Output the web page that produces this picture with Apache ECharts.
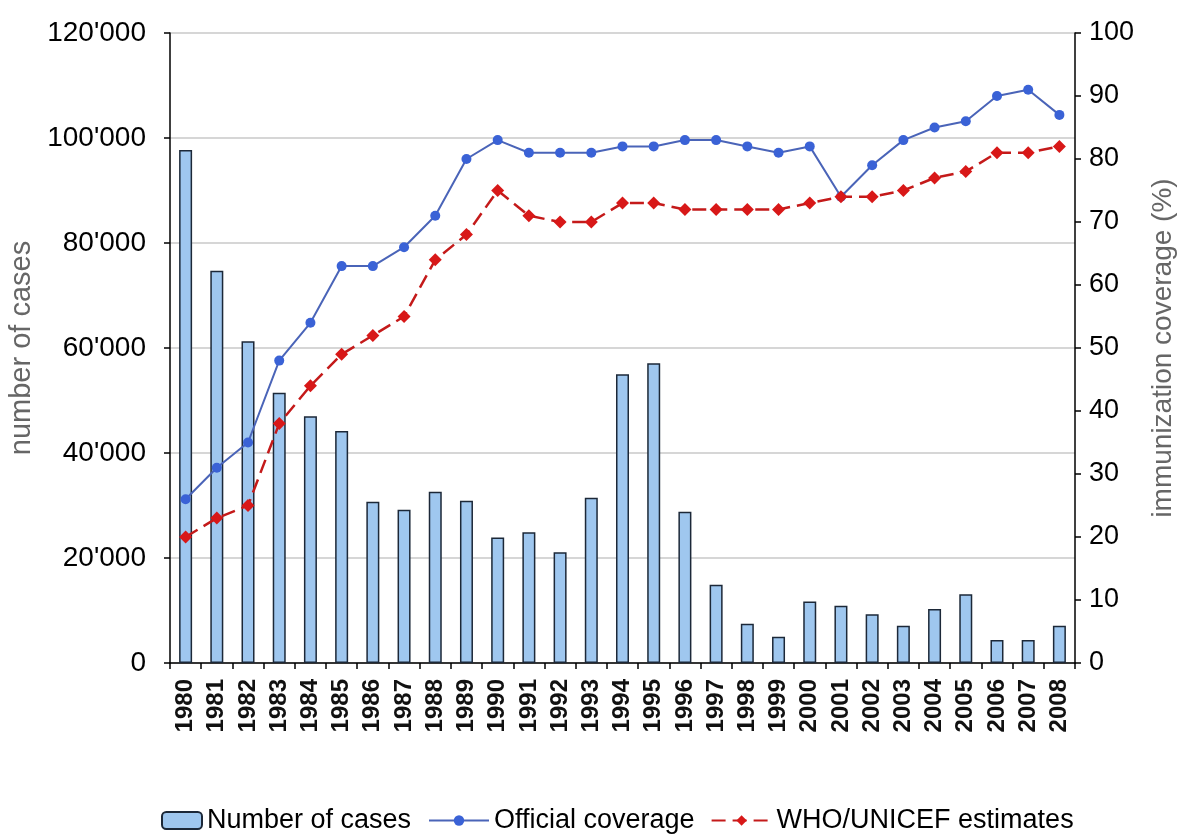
<!DOCTYPE html>
<html>
<head>
<meta charset="utf-8">
<script src="https://cdn.jsdelivr.net/npm/echarts@6/dist/echarts.min.js"></script>
<style>
html,body{margin:0;padding:0;background:#fff;}
#chart{width:1180px;height:836px;}
</style>
</head>
<body>
<div id="chart"></div>
<script>
const years = ['1980','1981','1982','1983','1984','1985','1986','1987','1988','1989','1990','1991','1992','1993','1994','1995','1996','1997','1998','1999','2000','2001','2002','2003','2004','2005','2006','2007','2008'];
const cases = [97700,74700,61300,51500,47000,44200,30700,29200,32600,30900,23900,24900,21100,31500,55000,57100,28800,14900,7500,5000,11700,10900,9300,7100,10300,13100,4400,4400,7100];
const officialCoverage = [26,31,35,48,54,63,63,66,71,80,83,81,81,81,82,82,83,83,82,81,82,74,79,83,85,86,90,91,87];
const whoEstimates = [20,23,25,38,44,49,52,55,64,68,75,71,70,70,73,73,72,72,72,72,73,74,74,75,77,78,81,81,82];
const leftTicks = {min:0, max:120000, interval:20000};
const rightTicks = {min:0, max:100, interval:10};

const chart = echarts.init(document.getElementById('chart'));
const fmt = v => v === 0 ? '0' : String(v).replace(/\B(?=(\d{3})+(?!\d))/g, "'");
const FONT = 'Liberation Sans, Arial, sans-serif';
const legendText = {fontSize:27,color:'#000',fontFamily:FONT};
chart.setOption({
  animation:false,
  backgroundColor:'#fff',
  textStyle:{fontFamily:FONT},
  grid:{left:170,right:105,top:33,bottom:173,containLabel:false,outerBoundsMode:'none'},
  legend:[{
    left:156, top:802,
    itemWidth:40, itemHeight:17,
    textStyle:legendText,
    data:['Number of cases']
  },{
    left:423, top:802,
    itemWidth:60, itemHeight:13, itemGap:16,
    textStyle:legendText,
    data:['Official coverage','WHO/UNICEF estimates']
  }],
  xAxis:{
    type:'category', data:years, boundaryGap:true,
    axisLine:{lineStyle:{color:'#000',width:1.5}},
    axisTick:{show:true,length:6,lineStyle:{color:'#000',width:1.5}},
    axisLabel:{rotate:90,fontSize:24,fontWeight:'bold',color:'#111',margin:16,fontFamily:FONT}
  },
  yAxis:[{
    type:'value', min:leftTicks.min, max:leftTicks.max, interval:leftTicks.interval,
    name:'number of cases', nameLocation:'middle', nameGap:134,
    nameTextStyle:{fontSize:29,color:'#666',fontFamily:FONT},
    axisLine:{show:true,lineStyle:{color:'#000',width:1.5}},
    axisTick:{show:true,length:6,lineStyle:{color:'#000',width:1.5}},
    axisLabel:{formatter:fmt,fontSize:28,color:'#000',margin:24},
    splitLine:{show:true,lineStyle:{color:'#c8c8c8',width:1.5}}
  },{
    type:'value', min:rightTicks.min, max:rightTicks.max, interval:rightTicks.interval,
    name:'immunization coverage (%)', nameLocation:'middle', nameGap:74, nameRotate:90,
    nameTextStyle:{fontSize:28,color:'#666',fontFamily:FONT},
    axisLine:{show:true,lineStyle:{color:'#000',width:1.5}},
    axisTick:{show:true,length:6,lineStyle:{color:'#000',width:1.5}},
    axisLabel:{fontSize:27,color:'#000',margin:14},
    splitLine:{show:false}
  }],
  series:[{
    name:'Number of cases', type:'bar', data:cases, yAxisIndex:0, barWidth:13,
    itemStyle:{color:'#9fc7ef',borderColor:'#1c2838',borderWidth:1.5},
    z:1
  },{
    name:'Official coverage', type:'line', data:officialCoverage, yAxisIndex:1,
    symbol:'circle', symbolSize:10,
    itemStyle:{color:'#3a62d6'},
    lineStyle:{color:'#4a64b8',width:2},
    z:3
  },{
    name:'WHO/UNICEF estimates', type:'line', data:whoEstimates, yAxisIndex:1,
    symbol:'diamond', symbolSize:13,
    itemStyle:{color:'#d81818'},
    lineStyle:{color:'#c41a1a',width:2.5,type:[14,7]},
    z:4
  }]
});
</script>
</body>
</html>
